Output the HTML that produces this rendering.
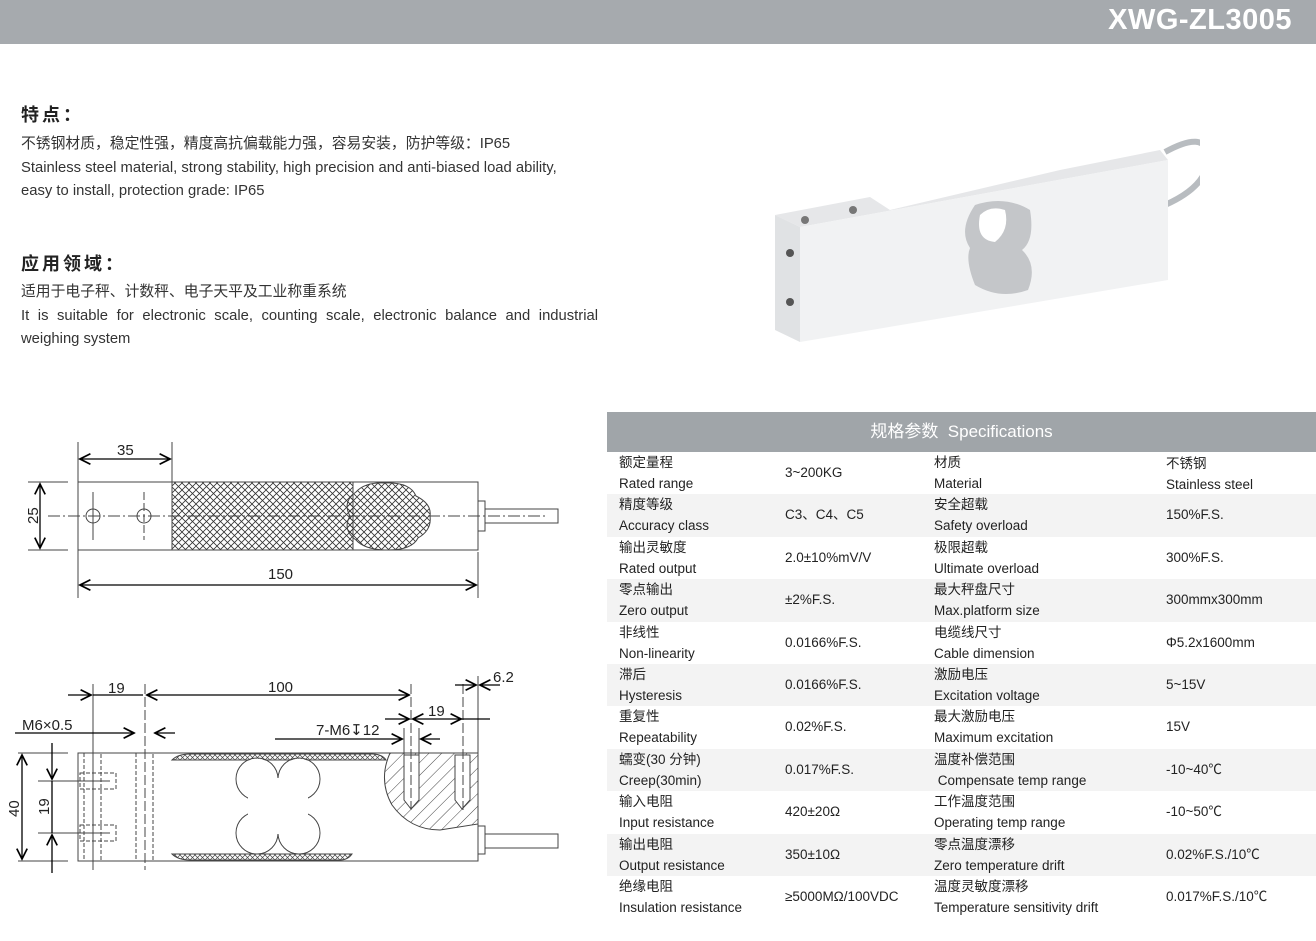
<!DOCTYPE html>
<html><head><meta charset="utf-8"><style>
body{margin:0;width:1316px;height:941px;background:#fff;position:relative;overflow:hidden;font-family:"Liberation Sans","Noto Sans CJK SC",sans-serif;color:#333}
.hd{position:absolute;left:0;top:0;width:1316px;height:44px;background:#a6aaae}
.hd span{position:absolute;right:24px;top:4px;font-size:29px;color:#fff;font-weight:bold;letter-spacing:0.5px}
.t{position:absolute;left:21px;font-size:14.8px;line-height:23.5px;color:#333;width:577px;text-align:justify}
.h{position:absolute;left:21px;font-size:18px;font-weight:bold;color:#222;letter-spacing:3px}
.tb{position:absolute;left:607px;top:412px;width:709px}
.th{height:40px;background:#a0a5a9;color:#fff;font-size:17px;text-align:center;line-height:40px}
.r{height:42.4px;position:relative;font-size:13.5px;color:#222}
.r:nth-child(even){background:#f3f3f3}
.r div{position:absolute;line-height:21px;top:0}
.c1{left:12px;top:1px}.c2{left:178px;line-height:42px!important}.c3{left:327px}.c4{left:559px;line-height:42px!important}
</style></head><body>
<div class="hd"><span>XWG-ZL3005</span></div>
<div class="h" style="top:101px">特点：</div>
<div class="t" style="top:133px;text-align:left;width:600px">不锈钢材质，稳定性强，精度高抗偏载能力强，容易安装，防护等级：IP65<br>Stainless steel material, strong stability, high precision and anti-biased load ability,<br>easy to install, protection grade: IP65</div>
<div class="h" style="top:250px">应用领域：</div>
<div class="t" style="top:281px">适用于电子秤、计数秤、电子天平及工业称重系统<br>It is suitable for electronic scale, counting scale, electronic balance and industrial weighing system</div>

<svg style="position:absolute;left:760px;top:130px" width="440" height="220">
<path d="M405 22 Q445 0 448 25 Q450 55 405 75" fill="none" stroke="#b8bcc0" stroke-width="6"/>
<polygon points="15,85 110,67 130,80 300,40 400,20 408,30 40,97" fill="#e6e7e9"/>
<polygon points="40,97 408,30 408,150 40,212" fill="#f1f2f3"/>
<polygon points="15,85 40,97 40,212 15,200" fill="#e0e2e4"/>
<circle cx="45" cy="90" r="4" fill="#777"/><circle cx="93" cy="80" r="4" fill="#777"/>
<circle cx="30" cy="123" r="4" fill="#555"/><circle cx="30" cy="172" r="4" fill="#555"/>
<path d="M215 75 Q245 65 270 80 Q275 110 262 120 Q278 135 268 160 Q240 170 215 155 Q205 130 210 118 Q198 100 215 75Z" fill="#c4c6c9"/>
<path d="M220 85 Q230 75 245 80 Q250 100 235 112 Q215 110 220 85Z" fill="#fff"/>
</svg>

<svg style="position:absolute;left:0;top:420px" width="600" height="200" font-family="Liberation Sans" font-size="15" fill="#222">
<defs><pattern id="x" width="7" height="7" patternUnits="userSpaceOnUse"><path d="M0 0L7 7M7 0L0 7" stroke="#333" stroke-width="0.8"/></pattern>
<marker id="a" markerWidth="10" markerHeight="10" refX="9" refY="5" orient="auto-start-reverse"><path d="M1 1L9 5L1 9" fill="none" stroke="#000" stroke-width="1.3"/></marker></defs>
<g stroke="#444" fill="none" stroke-width="1">
<rect x="78" y="62" width="400" height="68"/>
<rect x="172" y="62" width="181" height="68" fill="url(#x)"/>
<path d="M350 96 Q342 82 356 72 Q365 62 385 63 Q410 62 416 76 Q432 84 430 96 Q432 110 418 118 Q412 130 388 130 Q365 130 356 120 Q342 110 350 96Z" fill="url(#x)"/>
<rect x="478" y="81" width="7" height="30"/><rect x="485" y="89" width="73" height="14"/>
<line x1="48" y1="96" x2="545" y2="96" stroke-dasharray="12,3,2,3"/>
<line x1="93" y1="72" x2="93" y2="120"/>
<line x1="144" y1="72" x2="144" y2="120" stroke-dasharray="8,3"/>
<circle cx="93" cy="96" r="7"/><circle cx="144" cy="96" r="7"/>
<line x1="78" y1="22" x2="78" y2="178"/><line x1="172" y1="22" x2="172" y2="62"/><line x1="478" y1="132" x2="478" y2="178"/>
<line x1="28" y1="62" x2="68" y2="62"/><line x1="28" y1="130" x2="68" y2="130"/>
</g>
<g stroke="#000" stroke-width="1.3">
<line x1="80" y1="39" x2="170" y2="39" marker-start="url(#a)" marker-end="url(#a)"/>
<line x1="80" y1="165" x2="476" y2="165" marker-start="url(#a)" marker-end="url(#a)"/>
<line x1="40" y1="64" x2="40" y2="128" marker-start="url(#a)" marker-end="url(#a)"/>
</g>
<text x="117" y="35">35</text><text x="268" y="159">150</text>
<text transform="translate(38,104) rotate(-90)">25</text>
</svg>

<svg style="position:absolute;left:0;top:660px" width="600" height="220" font-family="Liberation Sans" font-size="15" fill="#222">
<defs><pattern id="h" width="9" height="9" patternUnits="userSpaceOnUse" patternTransform="rotate(45)"><line x1="0" y1="0" x2="0" y2="9" stroke="#444" stroke-width="1"/></pattern>
<pattern id="x2" width="5" height="5" patternUnits="userSpaceOnUse"><path d="M0 0L5 5M5 0L0 5" stroke="#444" stroke-width="0.7"/></pattern>
<marker id="b" markerWidth="10" markerHeight="10" refX="9" refY="5" orient="auto-start-reverse"><path d="M1 1L9 5L1 9" fill="none" stroke="#000" stroke-width="1.3"/></marker></defs>
<g stroke="#444" fill="none" stroke-width="1">
<rect x="78" y="93" width="400" height="108"/>
<path d="M172 100 Q178 94 190 94 L372 94 Q382 94 386 100Z" fill="url(#x2)"/>
<path d="M172 194 Q178 200 190 200 L340 200 Q348 200 352 194Z" fill="url(#x2)"/>
<path d="M390 93 Q378 120 392 145 Q410 170 440 170 L478 164 L478 93Z" fill="url(#h)"/>
<path d="M404 95 L419 95 L419 140 L411 149 L404 140Z" fill="#fff"/>
<path d="M455 95 L470 95 L470 140 L462 149 L455 140Z" fill="#fff"/>
<g><ellipse cx="257" cy="119" rx="21" ry="21"/><ellipse cx="299" cy="119" rx="21" ry="21"/><ellipse cx="257" cy="173" rx="21" ry="21"/><ellipse cx="299" cy="173" rx="21" ry="21"/>
<g fill="#fff" stroke="none"><ellipse cx="257" cy="119" rx="20.3" ry="20.3"/><ellipse cx="299" cy="119" rx="20.3" ry="20.3"/><ellipse cx="257" cy="173" rx="20.3" ry="20.3"/><ellipse cx="299" cy="173" rx="20.3" ry="20.3"/><rect x="248" y="118" width="60" height="56"/></g></g>
<rect x="478" y="166" width="7" height="28"/><rect x="485" y="174" width="73" height="14"/>
<g stroke-dasharray="4,2"><rect x="84" y="93" width="17" height="108"/><rect x="136" y="93" width="17" height="108"/><rect x="80" y="113" width="36" height="16"/><rect x="80" y="165" width="36" height="16"/></g>
<line x1="93" y1="24" x2="93" y2="210"/>
<line x1="145" y1="24" x2="145" y2="210" stroke-dasharray="10,3"/>
<line x1="411" y1="24" x2="411" y2="150" stroke-dasharray="10,3"/>
<line x1="404" y1="68" x2="404" y2="95"/><line x1="419" y1="68" x2="419" y2="95"/>
<line x1="463" y1="24" x2="463" y2="150" stroke-dasharray="10,3"/>
<line x1="478" y1="16" x2="478" y2="93"/>
<line x1="18" y1="93" x2="68" y2="93"/><line x1="18" y1="201" x2="68" y2="201"/>
<line x1="38" y1="121" x2="110" y2="121"/><line x1="38" y1="173" x2="110" y2="173"/>
</g>
<g stroke="#000" stroke-width="1.3">
<line x1="68" y1="35" x2="91" y2="35" marker-end="url(#b)"/><line x1="93" y1="35" x2="143" y2="35"/>
<line x1="147" y1="35" x2="409" y2="35" marker-start="url(#b)" marker-end="url(#b)"/>
<line x1="15" y1="73" x2="134" y2="73" marker-end="url(#b)"/><line x1="175" y1="73" x2="155" y2="73" marker-end="url(#b)"/>
<line x1="275" y1="79" x2="402" y2="79" marker-end="url(#b)"/><line x1="440" y1="79" x2="421" y2="79" marker-end="url(#b)"/>
<line x1="385" y1="59" x2="409" y2="59" marker-end="url(#b)"/><line x1="413" y1="59" x2="461" y2="59" marker-start="url(#b)" marker-end="url(#b)"/><line x1="461" y1="59" x2="490" y2="59"/>
<line x1="455" y1="25" x2="476" y2="25" marker-end="url(#b)"/><line x1="500" y1="25" x2="480" y2="25" marker-end="url(#b)"/>
<line x1="22" y1="95" x2="22" y2="199" marker-start="url(#b)" marker-end="url(#b)"/>
<line x1="52" y1="83" x2="52" y2="119" marker-end="url(#b)"/><line x1="52" y1="213" x2="52" y2="175" marker-end="url(#b)"/><line x1="52" y1="121" x2="52" y2="173"/>
</g>
<text x="108" y="33">19</text><text x="268" y="32">100</text><text x="493" y="22">6.2</text><text x="428" y="56">19</text>
<text x="22" y="70">M6×0.5</text><text x="316" y="75">7-M6↧12</text>
<text transform="translate(19,157) rotate(-90)">40</text><text transform="translate(49,155) rotate(-90)">19</text>
</svg>

<div class="tb">
<div class="th">规格参数&nbsp; Specifications</div>
<div>
<div class="r"><div class="c1">额定量程<br>Rated range</div><div class="c2">3~200KG</div><div class="c3">材质<br>Material</div><div class="c4" style="line-height:21px!important;top:1px">不锈钢<br>Stainless steel</div></div>
<div class="r"><div class="c1">精度等级<br>Accuracy class</div><div class="c2">C3、C4、C5</div><div class="c3">安全超载<br>Safety overload</div><div class="c4">150%F.S.</div></div>
<div class="r"><div class="c1">输出灵敏度<br>Rated output</div><div class="c2">2.0±10%mV/V</div><div class="c3">极限超载<br>Ultimate overload</div><div class="c4">300%F.S.</div></div>
<div class="r"><div class="c1">零点输出<br>Zero output</div><div class="c2">±2%F.S.</div><div class="c3">最大秤盘尺寸<br>Max.platform size</div><div class="c4">300mmx300mm</div></div>
<div class="r"><div class="c1">非线性<br>Non-linearity</div><div class="c2">0.0166%F.S.</div><div class="c3">电缆线尺寸<br>Cable dimension</div><div class="c4">Φ5.2x1600mm</div></div>
<div class="r"><div class="c1">滞后<br>Hysteresis</div><div class="c2">0.0166%F.S.</div><div class="c3">激励电压<br>Excitation voltage</div><div class="c4">5~15V</div></div>
<div class="r"><div class="c1">重复性<br>Repeatability</div><div class="c2">0.02%F.S.</div><div class="c3">最大激励电压<br>Maximum excitation</div><div class="c4">15V</div></div>
<div class="r"><div class="c1">蠕变(30 分钟)<br>Creep(30min)</div><div class="c2">0.017%F.S.</div><div class="c3">温度补偿范围<br>&nbsp;Compensate temp range</div><div class="c4">-10~40℃</div></div>
<div class="r"><div class="c1">输入电阻<br>Input resistance</div><div class="c2">420±20Ω</div><div class="c3">工作温度范围<br>Operating temp range</div><div class="c4">-10~50℃</div></div>
<div class="r"><div class="c1">输出电阻<br>Output resistance</div><div class="c2">350±10Ω</div><div class="c3">零点温度漂移<br>Zero temperature drift</div><div class="c4">0.02%F.S./10℃</div></div>
<div class="r"><div class="c1">绝缘电阻<br>Insulation resistance</div><div class="c2">≥5000MΩ/100VDC</div><div class="c3">温度灵敏度漂移<br>Temperature sensitivity drift</div><div class="c4">0.017%F.S./10℃</div></div>
</div></div>
</body></html>
